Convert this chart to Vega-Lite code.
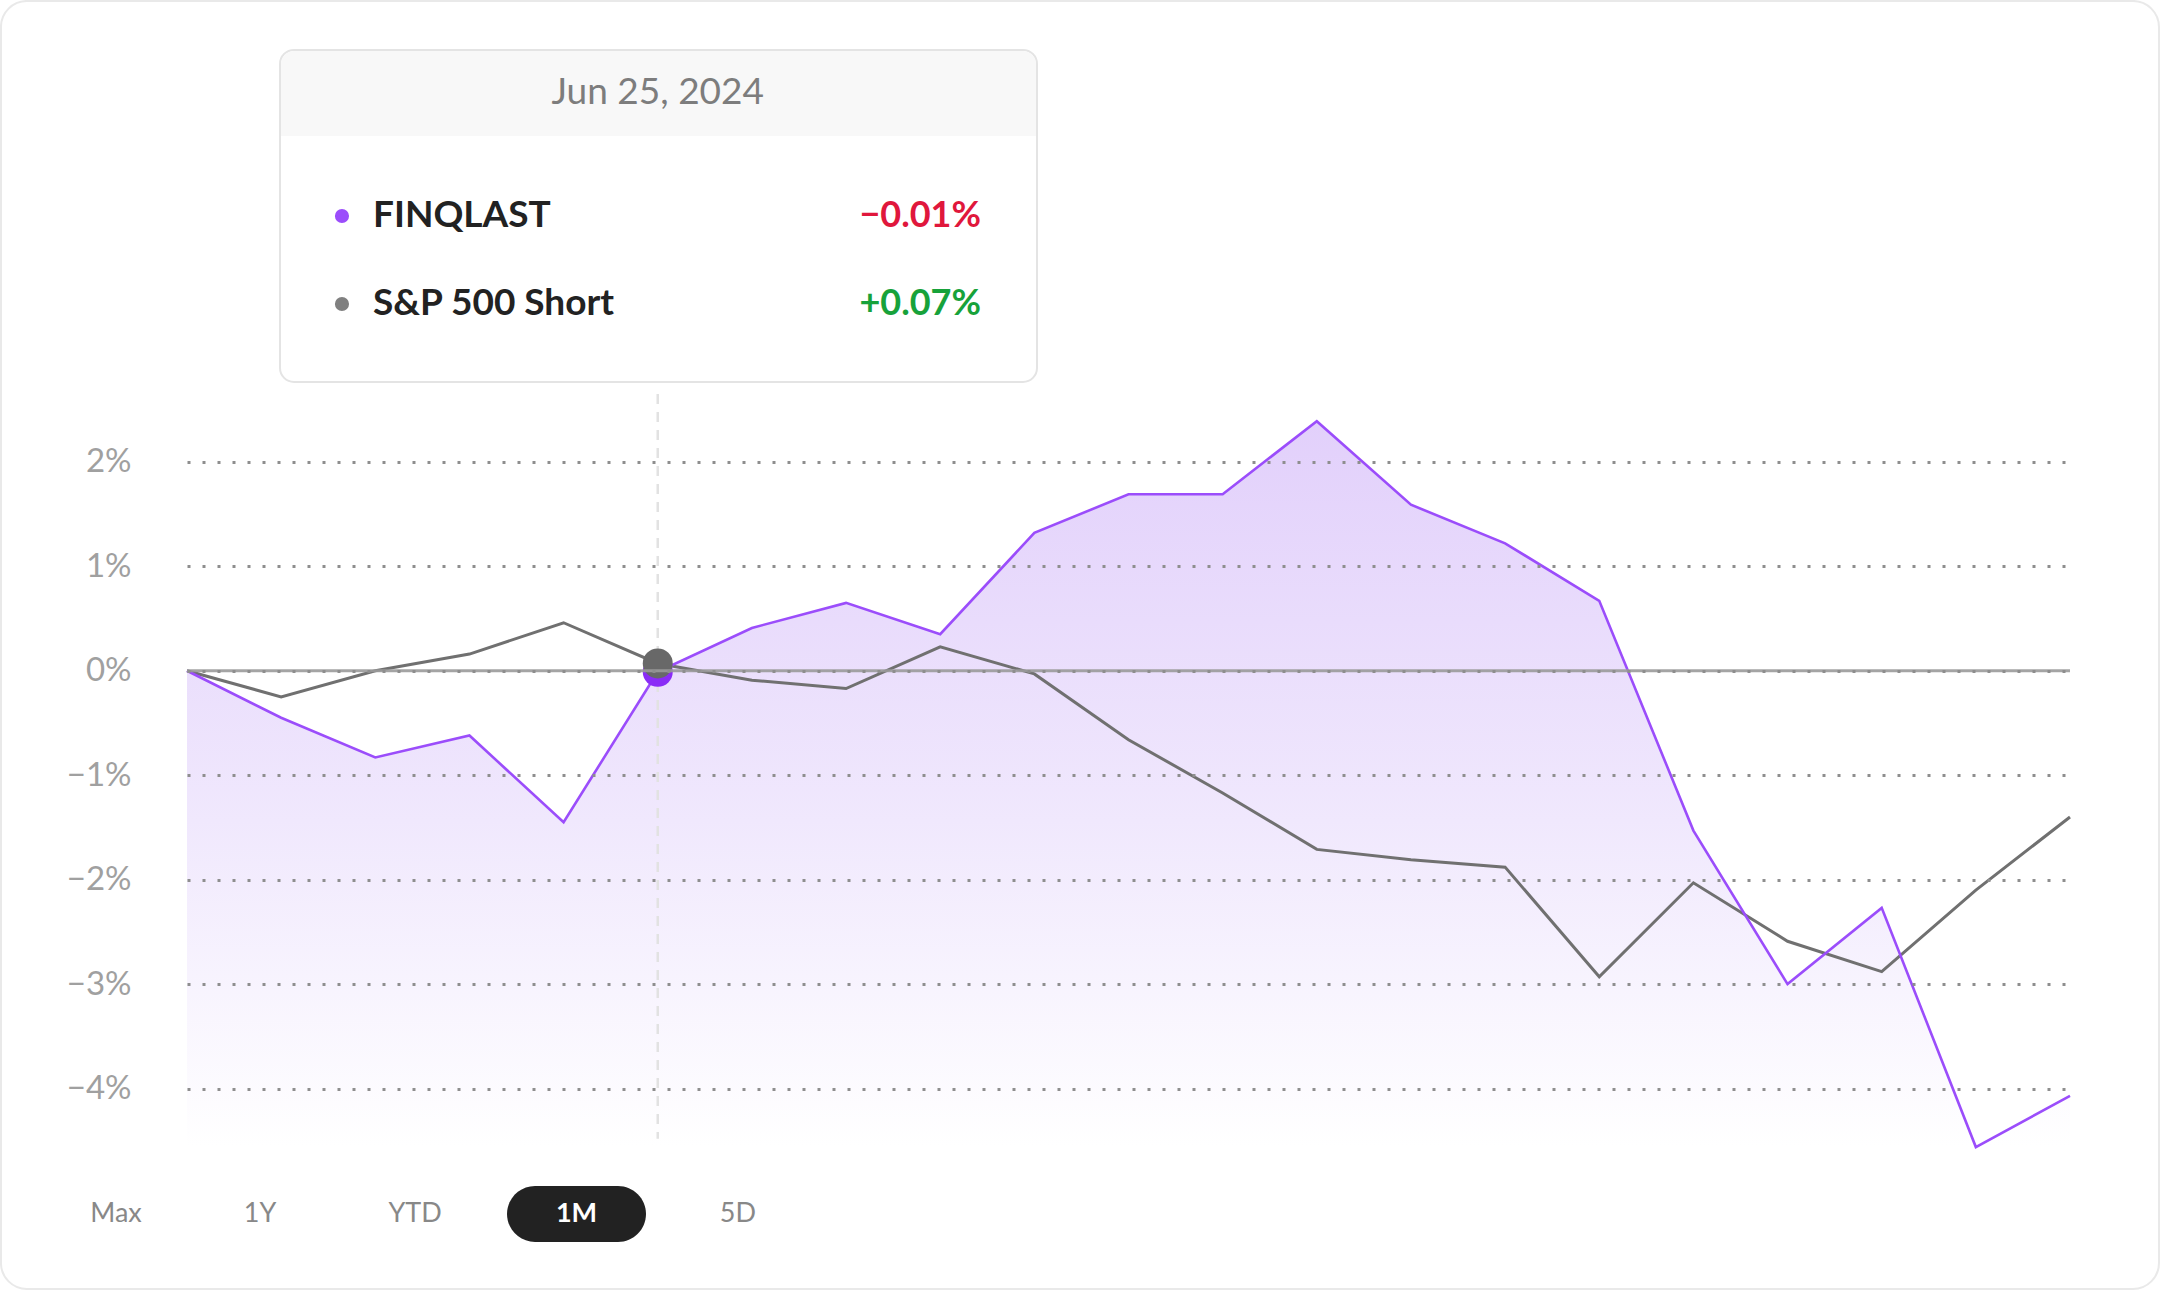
{
  "$schema": "https://vega.github.io/schema/vega-lite/v6.json",
  "width": 1883,
  "height": 752,
  "autosize": {"type": "none"},
  "padding": {"left": 187, "top": 394, "right": 90, "bottom": 144},
  "background": "white",
  "config": {"view": {"stroke": null}, "font": "Lato", "text": {"font": "Lato"}},
  "data": {"values": [
    {"i": 0, "date": "2024-06-17", "finq": 0, "spx": 0},
    {"i": 1, "date": "2024-06-18", "finq": -0.45, "spx": -0.25},
    {"i": 2, "date": "2024-06-20", "finq": -0.83, "spx": 0.0},
    {"i": 3, "date": "2024-06-21", "finq": -0.62, "spx": 0.16},
    {"i": 4, "date": "2024-06-24", "finq": -1.45, "spx": 0.46},
    {"i": 5, "date": "2024-06-25", "finq": -0.01, "spx": 0.07},
    {"i": 6, "date": "2024-06-26", "finq": 0.41, "spx": -0.09},
    {"i": 7, "date": "2024-06-27", "finq": 0.65, "spx": -0.17},
    {"i": 8, "date": "2024-06-28", "finq": 0.35, "spx": 0.23},
    {"i": 9, "date": "2024-07-01", "finq": 1.32, "spx": -0.03},
    {"i": 10, "date": "2024-07-02", "finq": 1.69, "spx": -0.66},
    {"i": 11, "date": "2024-07-03", "finq": 1.69, "spx": -1.17},
    {"i": 12, "date": "2024-07-05", "finq": 2.39, "spx": -1.71},
    {"i": 13, "date": "2024-07-08", "finq": 1.59, "spx": -1.81},
    {"i": 14, "date": "2024-07-09", "finq": 1.22, "spx": -1.88},
    {"i": 15, "date": "2024-07-10", "finq": 0.67, "spx": -2.93},
    {"i": 16, "date": "2024-07-11", "finq": -1.53, "spx": -2.03},
    {"i": 17, "date": "2024-07-12", "finq": -3.0, "spx": -2.59},
    {"i": 18, "date": "2024-07-15", "finq": -2.27, "spx": -2.88},
    {"i": 19, "date": "2024-07-16", "finq": -4.56, "spx": -2.10},
    {"i": 20, "date": "2024-07-17", "finq": -4.07, "spx": -1.40}
  ]},
  "layer": [
    {
      "data": {"values": [{}]},
      "mark": {"type": "rect", "fill": "white", "stroke": "#e9e9e9", "strokeWidth": 2, "cornerRadius": 26},
      "encoding": {
        "x": {"datum": -1.976, "type": "quantitative", "scale": {"domain": [0, 20], "nice": false, "zero": false}, "axis": null},
        "x2": {"datum": 20.945},
        "y": {"datum": 6.413, "type": "quantitative"},
        "y2": {"datum": -5.919}
      }
    },
    {
      "mark": {"type": "area", "color": {"gradient": "linear", "x1": 0, "y1": 0, "x2": 0, "y2": 1, "stops": [{"offset": 0, "color": "#e2d0fb"}, {"offset": 0.55, "color": "#f0e8fd"}, {"offset": 1, "color": "#ffffff"}]}},
      "encoding": {
        "x": {"field": "i", "type": "quantitative"},
        "y": {"field": "finq", "type": "quantitative", "scale": {"domain": [-4.55, 2.65], "nice": false, "zero": false},
              "axis": {"title": null, "values": [-4, -3, -2, -1, 0, 1, 2], "labelExpr": "(datum.value < 0 ? '−' : '') + abs(datum.value) + '%'", "labelFont": "Lato", "labelFontSize": 33, "labelColor": "#a0a0a0", "labelPadding": 56, "domain": false, "ticks": false, "grid": true, "gridDash": [3, 12], "gridColor": "#8e8e8e", "gridWidth": 3, "zindex": 1}},
        "y2": {"datum": -4.55}
      }
    },
    {
      "data": {"values": [{}]},
      "mark": {"type": "rule", "color": "#e2e2e2", "strokeWidth": 2.5, "strokeDash": [10, 8]},
      "encoding": {
        "x": {"datum": 5, "type": "quantitative"},
        "y": {"datum": 2.65, "type": "quantitative"},
        "y2": {"datum": -4.48}
      }
    },
    {
      "mark": {"type": "line", "color": "#707070", "strokeWidth": 3},
      "encoding": {
        "x": {"field": "i", "type": "quantitative"},
        "y": {"field": "spx", "type": "quantitative"}
      }
    },
    {
      "mark": {"type": "line", "color": "#9b4dfb", "strokeWidth": 2.6},
      "encoding": {
        "x": {"field": "i", "type": "quantitative"},
        "y": {"field": "finq", "type": "quantitative"}
      }
    },
    {
      "transform": [{"filter": "datum.i == 5"}],
      "mark": {"type": "point", "shape": "circle", "filled": true, "size": 900, "color": "#8a2cf6", "opacity": 1},
      "encoding": {
        "x": {"field": "i", "type": "quantitative"},
        "y": {"field": "finq", "type": "quantitative"}
      }
    },
    {
      "transform": [{"filter": "datum.i == 5"}],
      "mark": {"type": "point", "shape": "circle", "filled": true, "size": 900, "color": "#686868", "opacity": 1},
      "encoding": {
        "x": {"field": "i", "type": "quantitative"},
        "y": {"field": "spx", "type": "quantitative"}
      }
    },
    {
      "data": {"values": [{}]},
      "mark": {"type": "rule", "color": "#9a9a9a", "strokeWidth": 3, "opacity": 0.9},
      "encoding": {
        "x": {"datum": 0, "type": "quantitative"},
        "x2": {"datum": 20},
        "y": {"datum": 0, "type": "quantitative"}
      }
    },
    {
      "data": {"values": [{}]},
      "mark": {"type": "rect", "fill": "white", "stroke": "#e4e4e4", "strokeWidth": 2, "cornerRadius": 14},
      "encoding": {
        "x": {"datum": 0.988, "type": "quantitative"},
        "x2": {"datum": 9.028},
        "y": {"datum": 5.944, "type": "quantitative"},
        "y2": {"datum": 2.765}
      }
    },
    {
      "data": {"values": [{}]},
      "mark": {"type": "rect", "fill": "#f8f8f8", "cornerRadiusTopLeft": 13, "cornerRadiusTopRight": 13},
      "encoding": {
        "x": {"datum": 0.999, "type": "quantitative"},
        "x2": {"datum": 9.017},
        "y": {"datum": 5.934, "type": "quantitative"},
        "y2": {"datum": 5.12}
      }
    },
    {
      "data": {"values": [{}]},
      "mark": {"type": "text", "text": "Jun 25, 2024", "fontSize": 37, "color": "#7d7d7d", "align": "center", "baseline": "middle"},
      "encoding": {
        "x": {"datum": 5.0, "type": "quantitative"},
        "y": {"datum": 5.53, "type": "quantitative"}
      }
    },
    {
      "data": {"values": [{}]},
      "mark": {"type": "point", "shape": "circle", "filled": true, "size": 200, "color": "#9b4dfb", "opacity": 1},
      "encoding": {
        "x": {"datum": 1.646, "type": "quantitative"},
        "y": {"datum": 4.354, "type": "quantitative"}
      }
    },
    {
      "data": {"values": [{}]},
      "mark": {"type": "point", "shape": "circle", "filled": true, "size": 200, "color": "#808080", "opacity": 1},
      "encoding": {
        "x": {"datum": 1.646, "type": "quantitative"},
        "y": {"datum": 3.512, "type": "quantitative"}
      }
    },
    {
      "data": {"values": [{}]},
      "mark": {"type": "text", "text": "FINQLAST", "fontSize": 37, "fontWeight": "bold", "color": "#222222", "align": "left", "baseline": "middle"},
      "encoding": {
        "x": {"datum": 1.976, "type": "quantitative"},
        "y": {"datum": 4.354, "type": "quantitative"}
      }
    },
    {
      "data": {"values": [{}]},
      "mark": {"type": "text", "text": "S&P 500 Short", "fontSize": 37, "fontWeight": "bold", "color": "#222222", "align": "left", "baseline": "middle"},
      "encoding": {
        "x": {"datum": 1.976, "type": "quantitative"},
        "y": {"datum": 3.512, "type": "quantitative"}
      }
    },
    {
      "data": {"values": [{}]},
      "mark": {"type": "text", "text": "−0.01%", "fontSize": 36, "fontWeight": "bold", "color": "#e0173c", "align": "right", "baseline": "middle"},
      "encoding": {
        "x": {"datum": 8.433, "type": "quantitative"},
        "y": {"datum": 4.354, "type": "quantitative"}
      }
    },
    {
      "data": {"values": [{}]},
      "mark": {"type": "text", "text": "+0.07%", "fontSize": 36, "fontWeight": "bold", "color": "#17a23a", "align": "right", "baseline": "middle"},
      "encoding": {
        "x": {"datum": 8.433, "type": "quantitative"},
        "y": {"datum": 3.512, "type": "quantitative"}
      }
    },
    {
      "data": {"values": [{}]},
      "mark": {"type": "rect", "fill": "#222222", "cornerRadius": 28},
      "encoding": {
        "x": {"datum": 3.399, "type": "quantitative"},
        "x2": {"datum": 4.875},
        "y": {"datum": -4.933, "type": "quantitative"},
        "y2": {"datum": -5.469}
      }
    },
    {
      "data": {"values": [
        {"label": "Max", "bx": -0.754},
        {"label": "1Y", "bx": 0.775},
        {"label": "YTD", "bx": 2.422},
        {"label": "5D", "bx": 5.852}
      ]},
      "mark": {"type": "text", "fontSize": 27, "color": "#888888", "align": "center", "baseline": "middle"},
      "encoding": {
        "x": {"field": "bx", "type": "quantitative"},
        "y": {"datum": -5.2, "type": "quantitative"},
        "text": {"field": "label"}
      }
    },
    {
      "data": {"values": [{}]},
      "mark": {"type": "text", "text": "1M", "fontSize": 27, "fontWeight": "bold", "color": "white", "align": "center", "baseline": "middle"},
      "encoding": {
        "x": {"datum": 4.137, "type": "quantitative"},
        "y": {"datum": -5.2, "type": "quantitative"}
      }
    }
  ]
}
